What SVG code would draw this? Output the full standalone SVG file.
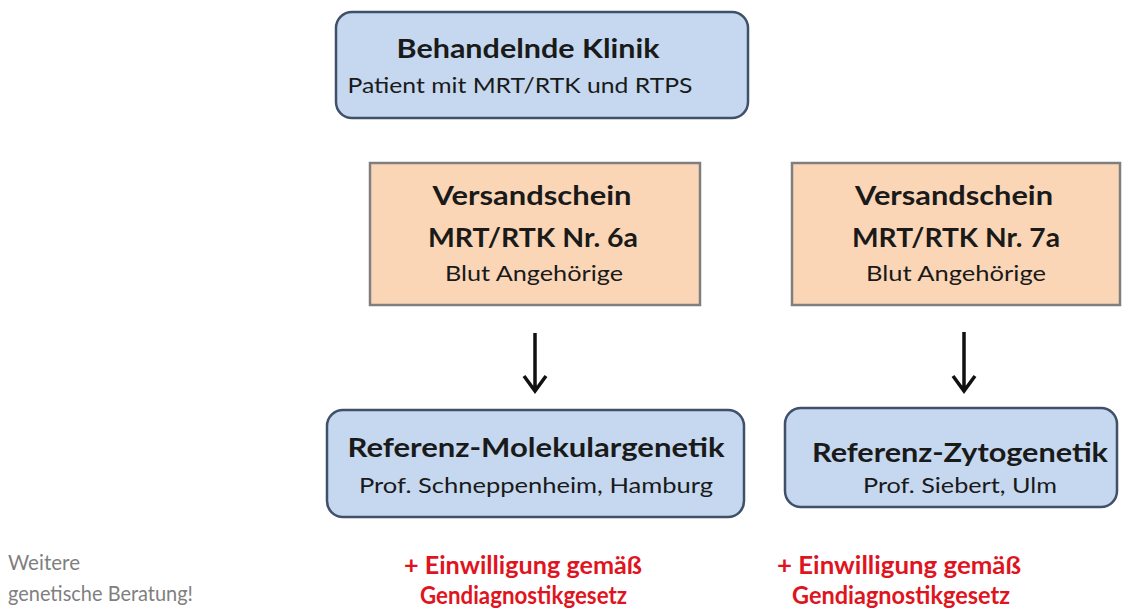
<svg xmlns="http://www.w3.org/2000/svg" width="1123" height="609" viewBox="0 0 1123 609">
<style>
.blue{fill:#C5D8EF;stroke:#3F5068;stroke-width:2.5}
.orange{fill:#FBD6B6;stroke:#7F7F7F;stroke-width:2.5}
text{font-family:Lato,"Open Sans","Liberation Sans",sans-serif;fill:#1a1a1a;text-anchor:middle}
.h{font-weight:700;font-size:27px}
.s{font-size:21px}
.red{font-weight:700;font-size:25px;fill:#E0141E;text-anchor:start}
.gray{font-size:21px;fill:#7F7F7F;text-anchor:start}
.conn{stroke:#111;stroke-width:3.5;fill:none}
</style>
<rect width="1123" height="609" fill="#ffffff"/>
<g id="klinik">
<rect class="blue" x="336" y="12" width="412" height="106" rx="16"/>
<text class="h" x="528" y="58" textLength="263" lengthAdjust="spacingAndGlyphs">Behandelnde Klinik</text>
<text class="s" x="520" y="93" textLength="345" lengthAdjust="spacingAndGlyphs">Patient mit MRT/RTK und RTPS</text>
</g>
<g id="versand6a">
<rect class="orange" x="370" y="163" width="330" height="142"/>
<text class="h" x="532" y="205" textLength="199" lengthAdjust="spacingAndGlyphs">Versandschein</text>
<text class="h" x="533" y="247" textLength="210" lengthAdjust="spacingAndGlyphs">MRT/RTK Nr. 6a</text>
<text class="s" x="534" y="281" textLength="178" lengthAdjust="spacingAndGlyphs">Blut Angehörige</text>
</g>
<g id="versand7a">
<rect class="orange" x="792" y="163" width="328" height="142"/>
<text class="h" x="954" y="205" textLength="198" lengthAdjust="spacingAndGlyphs">Versandschein</text>
<text class="h" x="956" y="247" textLength="208" lengthAdjust="spacingAndGlyphs">MRT/RTK Nr. 7a</text>
<text class="s" x="956" y="281" textLength="180" lengthAdjust="spacingAndGlyphs">Blut Angehörige</text>
</g>
<g id="molekular">
<rect class="blue" x="327" y="410" width="417" height="107" rx="16"/>
<text class="h" x="536" y="457" textLength="377" lengthAdjust="spacingAndGlyphs">Referenz-Molekulargenetik</text>
<text class="s" x="536" y="493" textLength="354" lengthAdjust="spacingAndGlyphs">Prof. Schneppenheim, Hamburg</text>
</g>
<g id="zyto">
<rect class="blue" x="785" y="408" width="332" height="99" rx="16"/>
<text class="h" x="960" y="462" textLength="296" lengthAdjust="spacingAndGlyphs">Referenz-Zytogenetik</text>
<text class="s" x="960" y="493" textLength="194" lengthAdjust="spacingAndGlyphs">Prof. Siebert, Ulm</text>
</g>
<g id="connectors">
<path class="conn" d="M535 333 V390 M524 376 L535 391 L546 376"/>
<path class="conn" d="M964 332 V390 M953 376 L964 391 L975 376"/>
</g>
<g id="notes">
<text class="gray" x="8" y="570" textLength="72" lengthAdjust="spacingAndGlyphs">Weitere</text>
<text class="gray" x="8" y="601" textLength="185" lengthAdjust="spacingAndGlyphs">genetische Beratung!</text>
<text class="red" x="404" y="574" textLength="238" lengthAdjust="spacingAndGlyphs">+ Einwilligung gemäß</text>
<text class="red" x="420" y="604" textLength="207" lengthAdjust="spacingAndGlyphs">Gendiagnostikgesetz</text>
<text class="red" x="777" y="574" textLength="244" lengthAdjust="spacingAndGlyphs">+ Einwilligung gemäß</text>
<text class="red" x="792" y="604" textLength="218" lengthAdjust="spacingAndGlyphs">Gendiagnostikgesetz</text>
</g>
</svg>
